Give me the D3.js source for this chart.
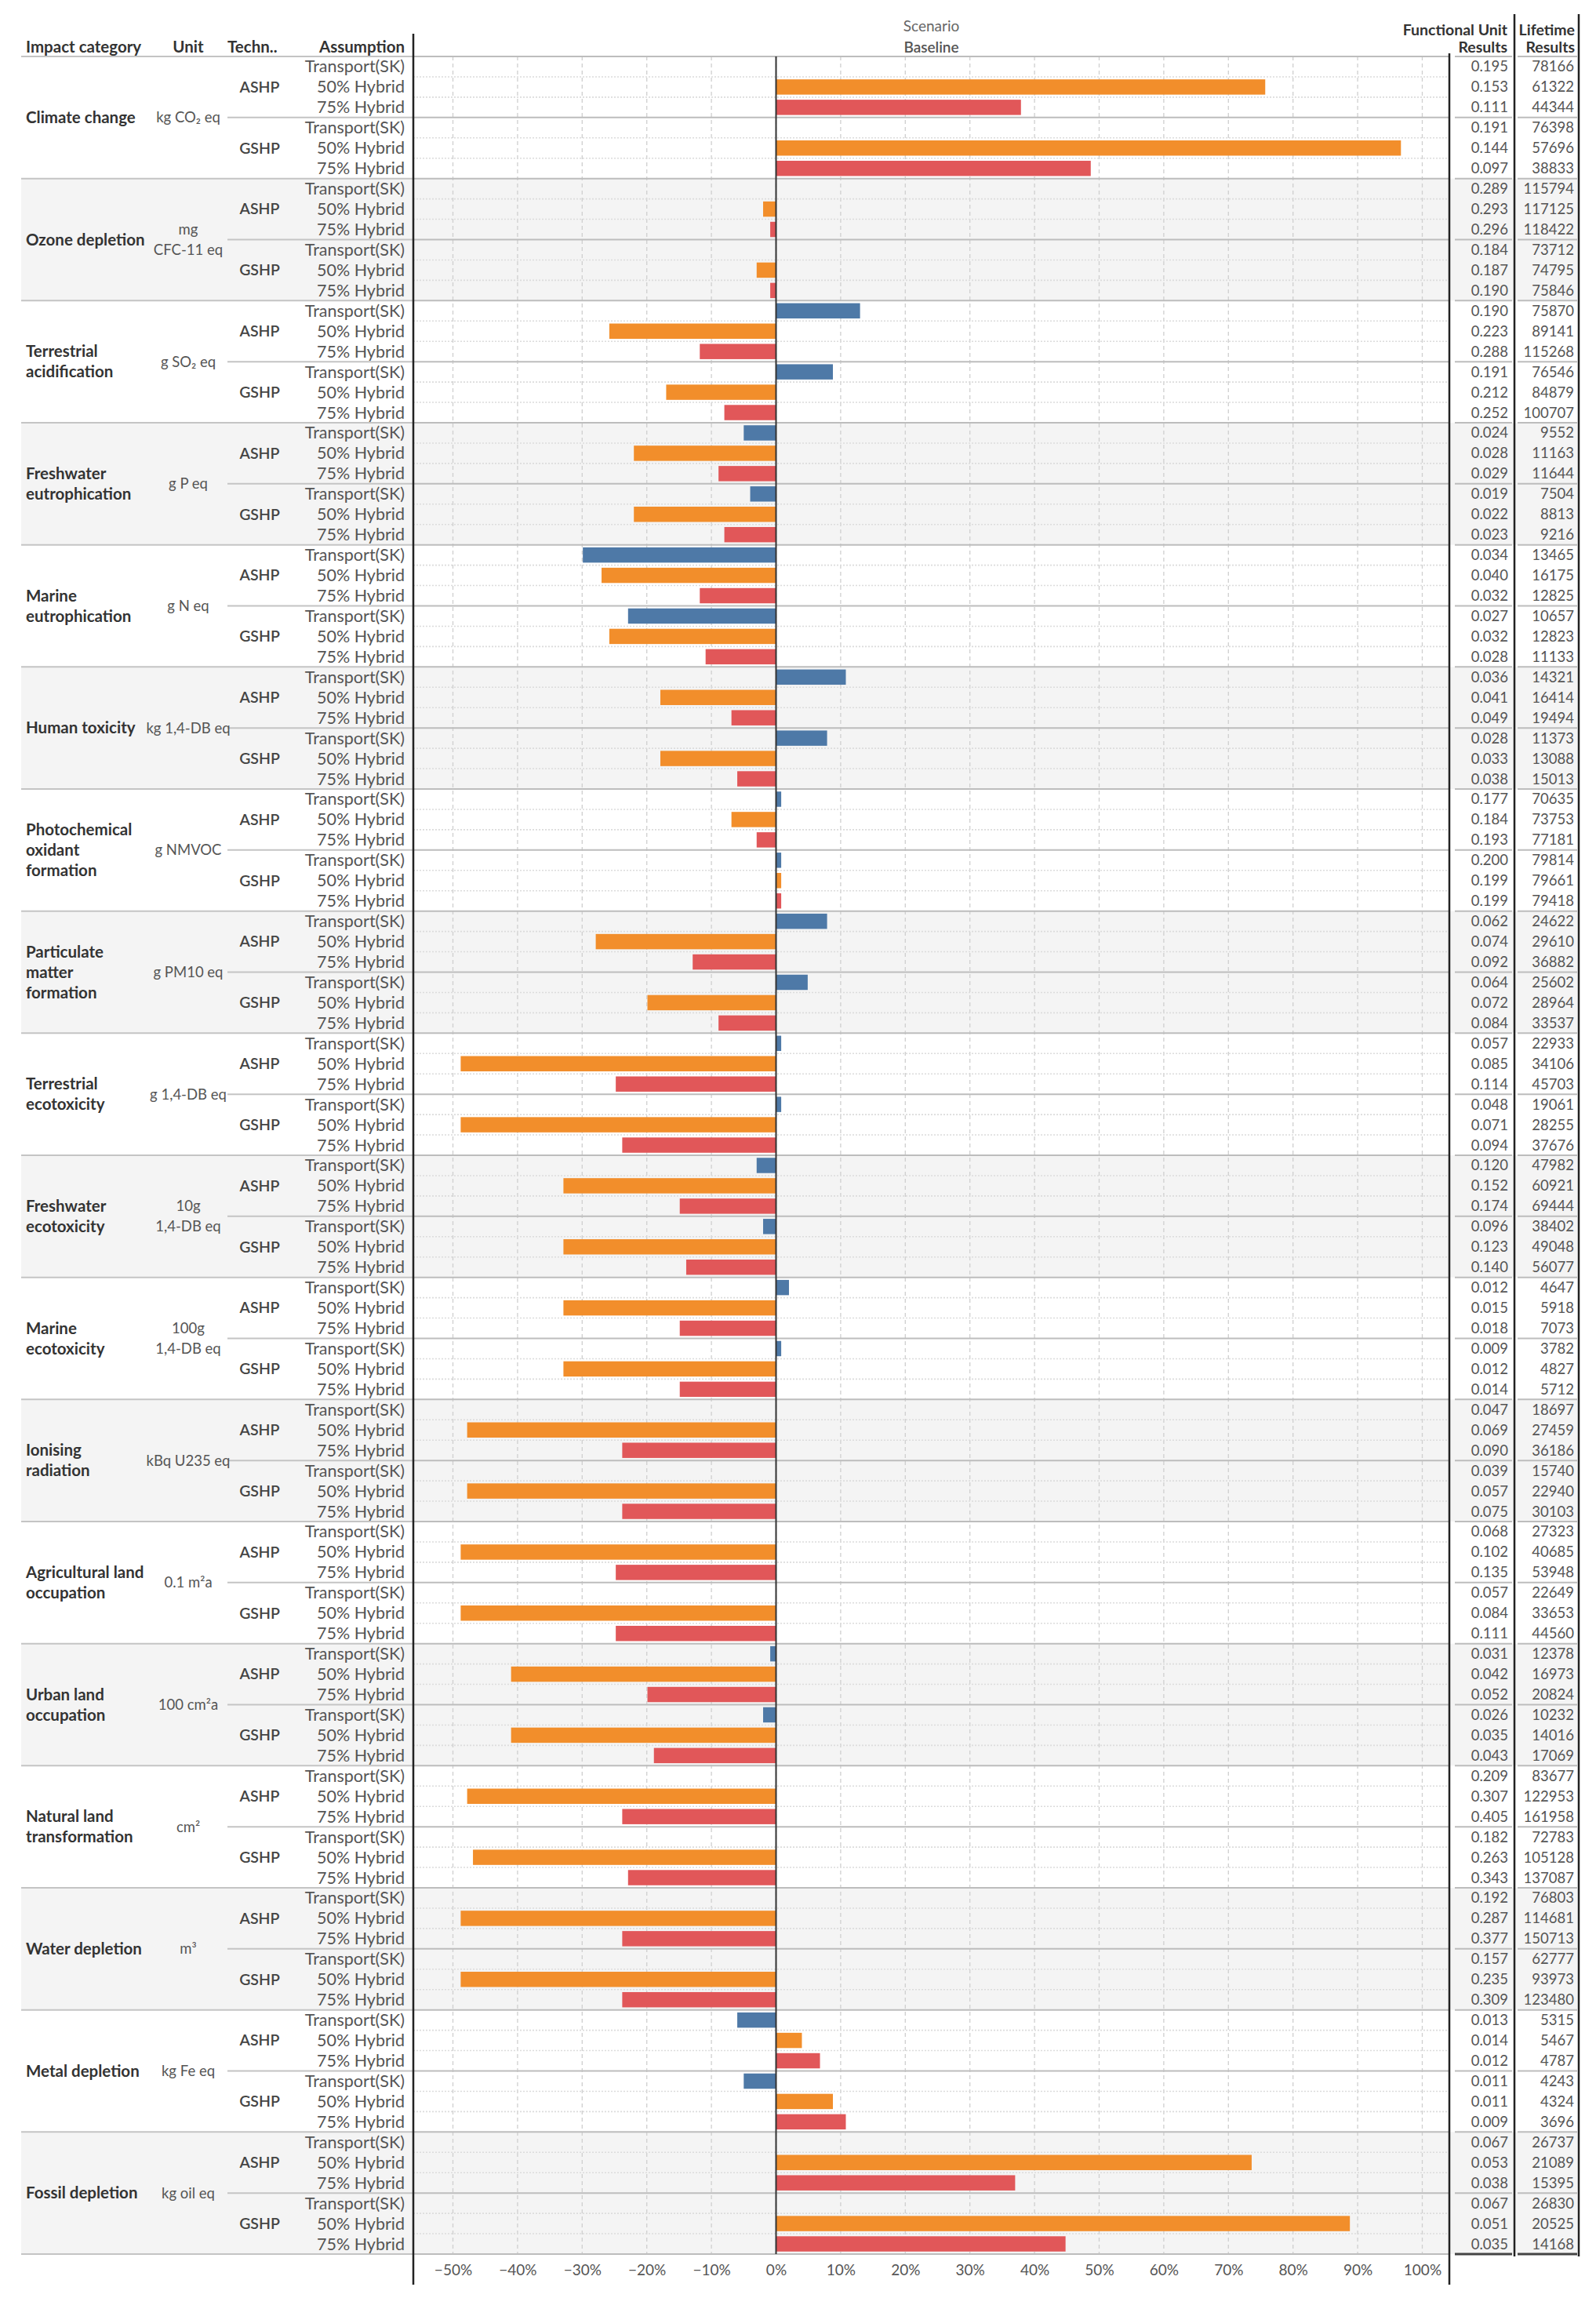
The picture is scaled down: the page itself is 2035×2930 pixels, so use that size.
<!DOCTYPE html>
<html><head><meta charset="utf-8">
<script src="https://cdn.jsdelivr.net/npm/d3@7"></script>
<style>
body{margin:0;background:#fff;}
text{font-family:Lato,"Open Sans",sans-serif;}
</style>
</head><body>
<svg id="chart" width="2035" height="2930"></svg>
<script>
// ---------- DATA ----------
const categories = [
  "Climate change","Ozone depletion","Terrestrial\nacidification","Freshwater\neutrophication",
  "Marine\neutrophication","Human toxicity","Photochemical\noxidant\nformation","Particulate\nmatter\nformation",
  "Terrestrial\necotoxicity","Freshwater\necotoxicity","Marine\necotoxicity","Ionising\nradiation",
  "Agricultural land\noccupation","Urban land\noccupation","Natural land\ntransformation","Water depletion",
  "Metal depletion","Fossil depletion"
];
const units = [
  "kg CO\u2082 eq","mg\nCFC-11 eq","g SO\u2082 eq","g P eq","g N eq","kg 1,4-DB eq","g NMVOC","g PM10 eq",
  "g 1,4-DB eq","10g\n1,4-DB eq","100g\n1,4-DB eq","kBq U235 eq","0.1 m\u00b2a","100 cm\u00b2a","cm\u00b2","m\u00b3",
  "kg Fe eq","kg oil eq"
];
const technologies = ["ASHP","GSHP"];
const assumptions = ["Transport(SK)","50% Hybrid","75% Hybrid"];

// % change vs baseline, order: category x technology (ASHP, GSHP)
const changeTransport = [0,0, 0,0, 13,8.8, -5,-4, -29.9,-22.9, 10.8,7.9, 0.8,0.8, 7.9,4.9, 0.8,0.8,
  -3,-2, 2,0.8, 0,0, 0,0, -0.9,-2, 0,0, 0,0, -6,-5, 0,0];
const changeHybrid50 = [75.7,96.7, -2,-3, -25.8,-17, -22,-22, -27,-25.8, -17.9,-17.9, -6.9,0.8, -27.9,-19.9, -48.8,-48.8,
  -32.9,-32.9, -32.9,-32.9, -47.8,-47.8, -48.8,-48.8, -41,-41, -47.8,-46.9, -48.8,-48.8, 4,8.8, 73.6,88.8];
const changeHybrid75 = [37.9,48.7, -0.9,-0.9, -11.8,-8, -8.9,-8, -11.8,-10.9, -6.9,-6, -3,0.8, -12.9,-8.9, -24.8,-23.8,
  -14.9,-13.9, -14.9,-14.9, -23.8,-23.8, -24.8,-24.8, -19.9,-18.9, -23.8,-22.9, -23.8,-23.8, 6.8,10.8, 37,44.8];

const fuTransport = ["0.195","0.191","0.289","0.184","0.190","0.191","0.024","0.019","0.034","0.027","0.036","0.028",
  "0.177","0.200","0.062","0.064","0.057","0.048","0.120","0.096","0.012","0.009","0.047","0.039","0.068","0.057",
  "0.031","0.026","0.209","0.182","0.192","0.157","0.013","0.011","0.067","0.067"];
const fuHybrid50 = ["0.153","0.144","0.293","0.187","0.223","0.212","0.028","0.022","0.040","0.032","0.041","0.033",
  "0.184","0.199","0.074","0.072","0.085","0.071","0.152","0.123","0.015","0.012","0.069","0.057","0.102","0.084",
  "0.042","0.035","0.307","0.263","0.287","0.235","0.014","0.011","0.053","0.051"];
const fuHybrid75 = ["0.111","0.097","0.296","0.190","0.288","0.252","0.029","0.023","0.032","0.028","0.049","0.038",
  "0.193","0.199","0.092","0.084","0.114","0.094","0.174","0.140","0.018","0.014","0.090","0.075","0.135","0.111",
  "0.052","0.043","0.405","0.343","0.377","0.309","0.012","0.009","0.038","0.035"];
const lifeTransport = [78166,76398,115794,73712,75870,76546,9552,7504,13465,10657,14321,11373,70635,79814,24622,25602,
  22933,19061,47982,38402,4647,3782,18697,15740,27323,22649,12378,10232,83677,72783,76803,62777,5315,4243,26737,26830];
const lifeHybrid50 = [61322,57696,117125,74795,89141,84879,11163,8813,16175,12823,16414,13088,73753,79661,29610,28964,
  34106,28255,60921,49048,5918,4827,27459,22940,40685,33653,16973,14016,122953,105128,114681,93973,5467,4324,21089,20525];
const lifeHybrid75 = [44344,38833,118422,75846,115268,100707,11644,9216,12825,11133,19494,15013,77181,79418,36882,33537,
  45703,37676,69444,56077,7073,5712,36186,30103,53948,44560,20824,17069,161958,137087,150713,123480,4787,3696,15395,14168];

const tickValues = [-50,-40,-30,-20,-10,0,10,20,30,40,50,60,70,80,90,100];
const xDomain = [-56.13, 104.19];
const assumptionColors = ["#4e79a7","#f28e2b","#e15759"];

// ---------- LAYOUT ----------
const svg = d3.select("#chart");
const TOP = 72, BOTTOM = 2874;
const PL = 527, PR = 1848;
const FU_L = 1855, FU_R = 1928, LT_L = 1935, LT_R = 2011;

const changeSeries = [changeTransport, changeHybrid50, changeHybrid75];
const fuSeries = [fuTransport, fuHybrid50, fuHybrid75];
const lifeSeries = [lifeTransport, lifeHybrid50, lifeHybrid75];

const rows = [];
categories.forEach((c, ci) => technologies.forEach((t, ti) => assumptions.forEach((a, ai) => {
  const k = ci * 2 + ti;
  rows.push({id: `${ci}-${ti}-${ai}`, ci, ti, ai, value: changeSeries[ai][k],
             fu: fuSeries[ai][k], life: lifeSeries[ai][k], label: a});
})));

const y = d3.scaleBand().domain(rows.map(d => d.id)).range([TOP, BOTTOM]).paddingInner(0.25).paddingOuter(0.125);
const step = y.step();
const x = d3.scaleLinear().domain(xDomain).range([PL, PR]);
const rowTop = i => TOP + i * step;

// background for alternate categories
svg.append("g").selectAll("rect").data(categories.map((c, i) => i).filter(i => i % 2 === 1)).join("rect")
  .attr("x", 27).attr("width", LT_R - 27)
  .attr("y", i => rowTop(i * 6)).attr("height", 6 * step)
  .attr("fill", "#f4f4f4");

// vertical dashed grid
svg.append("g").selectAll("line").data(tickValues).join("line")
  .attr("x1", d => x(d)).attr("x2", d => x(d)).attr("y1", TOP).attr("y2", BOTTOM)
  .attr("stroke", "#cfcfcf").attr("stroke-width", 1.3).attr("stroke-dasharray", "5,4");

// horizontal dotted lines within blocks
const dotted = [];
for (let b = 0; b < 36; b++) { dotted.push(b * 3 + 1, b * 3 + 2); }
svg.append("g").selectAll("line").data(dotted).join("line")
  .attr("x1", PL).attr("x2", PR).attr("y1", i => rowTop(i)).attr("y2", i => rowTop(i))
  .attr("stroke", "#dcdcdc").attr("stroke-width", 1.6).attr("stroke-dasharray", "2,2");

// separators
const sepG = svg.append("g");
function hseg(yy, x1, x2, col, w) {
  sepG.append("line").attr("x1", x1).attr("x2", x2).attr("y1", yy).attr("y2", yy)
    .attr("stroke", col).attr("stroke-width", w);
}
for (let ci = 0; ci <= categories.length; ci++) {
  const yy = rowTop(ci * 6);
  const last = ci === categories.length;
  hseg(yy, 27, PL, "#c4c4c4", 2);
  hseg(yy, PL, PR, "#bdbdbd", 2);
  hseg(yy, FU_L, FU_R, last ? "#444" : "#bdbdbd", last ? 3 : 2);
  hseg(yy, LT_L, LT_R, last ? "#444" : "#bdbdbd", last ? 3 : 2);
  if (!last) {
    const yb = rowTop(ci * 6 + 3);
    hseg(yb, 290, PL, "#c4c4c4", 2);
    hseg(yb, PL, PR, "#bdbdbd", 2);
    hseg(yb, FU_L, FU_R, "#bdbdbd", 2);
    hseg(yb, LT_L, LT_R, "#bdbdbd", 2);
  }
}

// bars
svg.append("g").selectAll("rect").data(rows.filter(d => d.value !== 0)).join("rect")
  .attr("x", d => Math.min(x(0), x(d.value)))
  .attr("width", d => Math.abs(x(d.value) - x(0)))
  .attr("y", d => y(d.id)).attr("height", y.bandwidth())
  .attr("fill", d => assumptionColors[d.ai]);

// zero line & frame
svg.append("line").attr("x1", x(0)).attr("x2", x(0)).attr("y1", TOP).attr("y2", BOTTOM)
  .attr("stroke", "#333").attr("stroke-width", 2);
svg.append("line").attr("x1", PL).attr("x2", PL).attr("y1", 43).attr("y2", 2913)
  .attr("stroke", "#222").attr("stroke-width", 2.5);
svg.append("line").attr("x1", PR).attr("x2", PR).attr("y1", 68).attr("y2", 2913)
  .attr("stroke", "#222").attr("stroke-width", 2.5);
[1931, 2013].forEach(xx => svg.append("line").attr("x1", xx).attr("x2", xx).attr("y1", 18).attr("y2", 2877)
  .attr("stroke", "#222").attr("stroke-width", 2.5));

// x axis
const axis = svg.append("g").attr("transform", `translate(0,${BOTTOM})`)
  .call(d3.axisBottom(x).tickValues(tickValues).tickSize(0).tickPadding(14)
    .tickFormat(d => d3.format("")(d) + "%"));
axis.select(".domain").remove();
axis.selectAll("text").attr("font-size", 19).attr("fill", "#555")
  .style("font-family", "Lato, 'Open Sans', sans-serif");

// headers
const hdr = svg.append("g").attr("font-weight", 700).attr("font-size", 20.5).attr("fill", "#333");
hdr.append("text").attr("x", 33).attr("y", 60).attr("dy", "0.35em").text("Impact category");
hdr.append("text").attr("x", 240).attr("y", 60).attr("dy", "0.35em").attr("text-anchor", "middle").text("Unit");
hdr.append("text").attr("x", 290).attr("y", 60).attr("dy", "0.35em").text("Techn..");
hdr.append("text").attr("x", 516).attr("y", 60).attr("dy", "0.35em").attr("text-anchor", "end").text("Assumption");
hseg(72, 27, 520, "#c4c4c4", 2);
svg.append("text").attr("x", (PL + PR) / 2).attr("y", 33).attr("dy", "0.35em").attr("text-anchor", "middle")
  .attr("font-size", 19).attr("fill", "#666").text("Scenario");
svg.append("text").attr("x", (PL + PR) / 2).attr("y", 60).attr("dy", "0.35em").attr("text-anchor", "middle")
  .attr("font-size", 19).attr("font-weight", 600).attr("fill", "#555").text("Baseline");
const rh = svg.append("g").attr("font-weight", 700).attr("font-size", 19.5).attr("fill", "#333").attr("text-anchor", "end");
rh.append("text").attr("x", 1922).attr("y", 38).attr("dy", "0.35em").text("Functional Unit");
rh.append("text").attr("x", 1922).attr("y", 60).attr("dy", "0.35em").text("Results");
rh.append("text").attr("x", 2008).attr("y", 38).attr("dy", "0.35em").text("Lifetime");
rh.append("text").attr("x", 2008).attr("y", 60).attr("dy", "0.35em").text("Results");

// category labels
function multiline(g, txt, xx, yc, anchor) {
  const lines = txt.split("\n");
  const lh = 26;
  const t = g.append("text").attr("x", xx).attr("text-anchor", anchor);
  lines.forEach((l, i) => t.append("tspan").attr("x", xx)
    .attr("y", yc + (i - (lines.length - 1) / 2) * lh).attr("dy", "0.35em").text(l));
}
const catG = svg.append("g").attr("font-size", 20.5).attr("font-weight", 700).attr("fill", "#333");
const unitG = svg.append("g").attr("font-size", 18.5).attr("fill", "#555");
categories.forEach((c, ci) => {
  const yc = rowTop(ci * 6) + 3 * step;
  multiline(catG, c, 33, yc, "start");
  multiline(unitG, units[ci], 240, yc, "middle");
});
// technology labels
const techG = svg.append("g").attr("font-size", 19.5).attr("font-weight", 600).attr("fill", "#444").attr("text-anchor", "middle");
categories.forEach((c, ci) => technologies.forEach((t, ti) => {
  techG.append("text").attr("x", 331).attr("y", rowTop(ci * 6 + ti * 3) + 1.5 * step).attr("dy", "0.35em").text(t);
}));
// assumption labels
svg.append("g").attr("font-size", 21.5).attr("fill", "#555").attr("text-anchor", "end")
  .selectAll("text").data(rows).join("text")
  .attr("x", 516).attr("y", d => y(d.id) + y.bandwidth() / 2).attr("dy", "0.35em").text(d => d.label);
// table values
svg.append("g").attr("font-size", 18.5).attr("fill", "#555").attr("text-anchor", "end")
  .selectAll("text").data(rows).join("text")
  .attr("x", 1923).attr("y", d => y(d.id) + y.bandwidth() / 2).attr("dy", "0.35em").text(d => d.fu);
svg.append("g").attr("font-size", 18.5).attr("fill", "#555").attr("text-anchor", "end")
  .selectAll("text").data(rows).join("text")
  .attr("x", 2007).attr("y", d => y(d.id) + y.bandwidth() / 2).attr("dy", "0.35em").text(d => d.life);
</script>
</body></html>
